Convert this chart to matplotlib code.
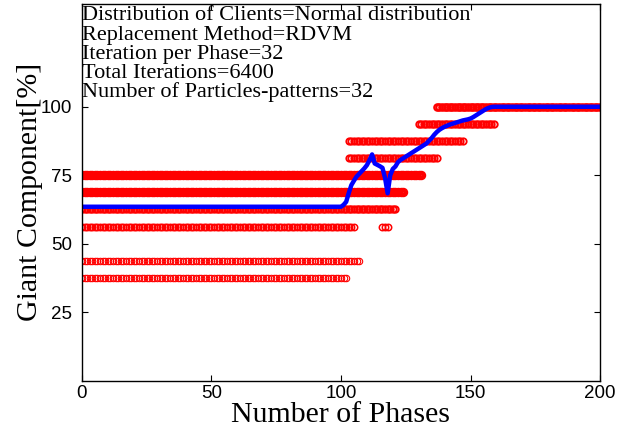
import matplotlib
matplotlib.use("Agg")
import matplotlib.pyplot as plt

# particle rows: level [%], first phase, last phase
row_levels = [37.5, 43.75, 56.25, 56.25, 62.5, 68.75, 75.0, 81.25, 87.5, 93.75, 100.0]
row_start = [0, 0, 0, 116, 0, 0, 0, 103, 103, 130, 137]
row_end = [102, 107, 105, 118, 121, 124, 131, 137, 147, 159, 200]
row_weight = [0.8, 0.8, 1.1, 1.1, 1.4, 2.2, 2.2, 1.3, 1.3, 1.4, 1.6]

# average giant component per phase (0..200)
avg_flat = [63.5] * 100
avg_rise = [63.5, 64.2, 65.3, 68.5, 71.4, 73.0, 74.5, 75.5, 76.5, 77.5,
            78.7, 80.5, 82.6, 79.3, 78.8, 78.3, 77.7, 74.0, 68.4, 75.0,
            77.3, 78.2, 79.8, 80.6, 81.2, 81.8, 82.4, 83.0, 83.6, 84.2,
            84.8, 85.4, 86.0, 86.6, 87.6, 88.6, 89.8, 90.8, 91.6, 92.2,
            92.7, 93.1, 93.5, 93.8, 94.1, 94.4, 94.7, 95.0, 95.2, 95.4,
            95.7, 96.2, 96.8, 97.4, 98.0, 98.6, 99.2, 99.6, 99.9, 100.0, 100.0]
avg_top = [100.0] * 40
avg_values = avg_flat + avg_rise + avg_top
phases = list(range(len(avg_values)))

info_lines = [
    "Distribution of Clients=Normal distribution",
    "Replacement Method=RDVM",
    "Iteration per Phase=32",
    "Total Iterations=6400",
    "Number of Particles-patterns=32",
]

fig = plt.figure(figsize=(6.35, 4.29), dpi=100)
ax = fig.add_axes([0.129, 0.1126, 0.816, 0.878])

for lev, s, e, w in zip(row_levels, row_start, row_end, row_weight):
    xs = list(range(s, e + 1))
    ax.plot(xs, [lev] * len(xs), "o", mfc="none", mec="red", ms=4.6, mew=w)

ax.plot(phases, avg_values, color="blue", lw=3.2)

ax.set_xlim(0, 200)
ax.set_ylim(0, 137.5)
ax.set_xticks([0, 50, 100, 150, 200])
ax.set_yticks([25, 50, 75, 100])
ax.tick_params(direction="in", top=True, right=True, length=4, width=0.8)
ax.tick_params(axis="y", pad=7)
ax.tick_params(axis="x", pad=3)
for lab in ax.get_xticklabels() + ax.get_yticklabels():
    lab.set_fontfamily("Liberation Sans")
    lab.set_fontsize(13.5)
for sp in ax.spines.values():
    sp.set_linewidth(1.0)

ax.set_xlabel("Number of Phases", family="Liberation Serif", fontsize=21.5, labelpad=0)
ax.set_ylabel("Giant Component[%]", family="Liberation Serif", fontsize=21.5)
ax.yaxis.set_label_coords(-0.076, 0.5)

# info block, one line per text, baselines about 19 px apart
for i, line in enumerate(info_lines):
    ax.text(0.0, 0.957 - i * 0.0512, line, transform=ax.transAxes,
            family="Liberation Serif", fontsize=16, va="baseline", ha="left")

fig.savefig("out.png", dpi=100)
